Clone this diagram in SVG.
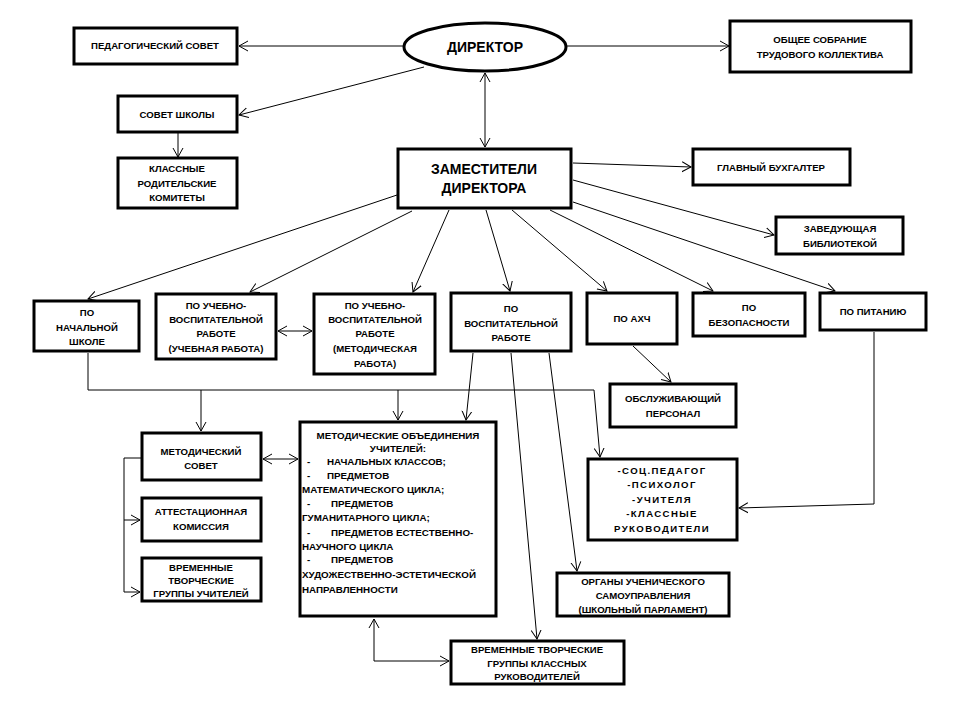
<svg xmlns="http://www.w3.org/2000/svg" width="960" height="720" viewBox="0 0 960 720">
<defs>
<marker id="arr" markerUnits="userSpaceOnUse" markerWidth="12" markerHeight="12" refX="9" refY="5" orient="auto-start-reverse" viewBox="0 0 12 10">
<path d="M0,0 L9,5 L0,10" fill="none" stroke="#000" stroke-width="1"/>
</marker>
</defs>
<style>
.box{fill:#fff;stroke:#000;stroke-width:3}
.t{font-family:"Liberation Sans",Arial,sans-serif;font-weight:bold;font-size:9.6px;fill:#000;text-anchor:middle}
.tl{font-family:"Liberation Sans",Arial,sans-serif;font-weight:bold;font-size:9.8px;fill:#000}
.big{font-size:14px}
.sp{letter-spacing:1.4px}
.c{fill:none;stroke:#000;stroke-width:1}
.a{marker-end:url(#arr)}
.ab{marker-start:url(#arr);marker-end:url(#arr)}
</style>
<rect width="960" height="720" fill="#fff"/>

<g id="connectors">
<line class="c a" x1="404" y1="46" x2="239" y2="46"/>
<line class="c a" x1="566" y1="46" x2="729" y2="46"/>
<line class="c a" x1="424" y1="67" x2="239" y2="115"/>
<line class="c a" x1="178" y1="133" x2="178" y2="157"/>
<line class="c ab" x1="485" y1="73" x2="485" y2="147"/>
<line class="c a" x1="573" y1="163" x2="691" y2="167"/>
<line class="c a" x1="573" y1="180" x2="774" y2="235"/>
<line class="c a" x1="573" y1="202" x2="835" y2="291"/>
<line class="c a" x1="550" y1="210" x2="713" y2="291"/>
<line class="c a" x1="512" y1="210" x2="607" y2="291"/>
<line class="c a" x1="486" y1="210" x2="510" y2="291"/>
<line class="c a" x1="449" y1="210" x2="413" y2="292"/>
<line class="c a" x1="412" y1="211" x2="250" y2="292"/>
<line class="c a" x1="397" y1="195" x2="88" y2="299"/>
<line class="c ab" x1="278" y1="331" x2="312" y2="331"/>
<polyline class="c a" points="88,353 88,390 594,390 600,457"/>
<line class="c a" x1="201" y1="390" x2="201" y2="431"/>
<line class="c a" x1="398" y1="390" x2="398" y2="420"/>
<line class="c a" x1="473" y1="353" x2="466" y2="420"/>
<line class="c a" x1="511" y1="353" x2="537" y2="639"/>
<line class="c a" x1="549" y1="353" x2="577" y2="571"/>
<line class="c a" x1="633" y1="346" x2="671" y2="382"/>
<polyline class="c a" points="874,332 874,504 739,508"/>
<line class="c ab" x1="263" y1="459" x2="298" y2="459"/>
<polyline class="c" points="141,458 124,458 124,592"/>
<line class="c a" x1="124" y1="520" x2="140" y2="520"/>
<line class="c a" x1="124" y1="592" x2="140" y2="592"/>
<polyline class="c ab" points="374,619 374,661 449,661"/>
</g>

<g id="director">
<ellipse class="box" cx="485" cy="47" rx="81" ry="24"/>
<text class="t big" x="485" y="52">ДИРЕКТОР</text>
</g>
<g id="pedsovet">
<rect class="box" x="74" y="28" width="163" height="36"/>
<text class="t" x="155" y="49">ПЕДАГОГИЧЕСКИЙ СОВЕТ</text>
</g>
<g id="obshchee">
<rect class="box" x="730" y="21" width="181" height="51"/>
<text class="t" x="820" y="43">ОБЩЕЕ СОБРАНИЕ</text>
<text class="t" x="820" y="58">ТРУДОВОГО КОЛЛЕКТИВА</text>
</g>
<g id="sovet-shkoly">
<rect class="box" x="118" y="96" width="119" height="36"/>
<text class="t" x="177" y="118">СОВЕТ ШКОЛЫ</text>
</g>
<g id="roditeli">
<rect class="box" x="118" y="158" width="119" height="50"/>
<text class="t" x="177" y="172">КЛАССНЫЕ</text>
<text class="t" x="177" y="187">РОДИТЕЛЬСКИЕ</text>
<text class="t" x="177" y="201">КОМИТЕТЫ</text>
</g>
<g id="zam">
<rect class="box" x="398" y="149" width="173" height="59"/>
<text class="t big" x="484" y="174">ЗАМЕСТИТЕЛИ</text>
<text class="t big" x="484" y="193">ДИРЕКТОРА</text>
</g>
<g id="buhgalter">
<rect class="box" x="693" y="149" width="157" height="36"/>
<text class="t" x="771" y="171">ГЛАВНЫЙ БУХГАЛТЕР</text>
</g>
<g id="biblioteka">
<rect class="box" x="776" y="217" width="127" height="37"/>
<text class="t" x="840" y="232">ЗАВЕДУЮЩАЯ</text>
<text class="t" x="840" y="247">БИБЛИОТЕКОЙ</text>
</g>
<g id="nach-shkola">
<rect class="box" x="34" y="301" width="105" height="50"/>
<text class="t" x="87" y="316">ПО</text>
<text class="t" x="87" y="331">НАЧАЛЬНОЙ</text>
<text class="t" x="87" y="345">ШКОЛЕ</text>
</g>
<g id="uvr-uch">
<rect class="box" x="156" y="294" width="120" height="65"/>
<text class="t" x="216" y="309">ПО УЧЕБНО-</text>
<text class="t" x="216" y="323">ВОСПИТАТЕЛЬНОЙ</text>
<text class="t" x="216" y="337">РАБОТЕ</text>
<text class="t" x="216" y="352">(УЧЕБНАЯ РАБОТА)</text>
</g>
<g id="uvr-met">
<rect class="box" x="314" y="294" width="121" height="80"/>
<text class="t" x="375" y="309">ПО УЧЕБНО-</text>
<text class="t" x="375" y="323">ВОСПИТАТЕЛЬНОЙ</text>
<text class="t" x="375" y="337">РАБОТЕ</text>
<text class="t" x="375" y="352">(МЕТОДИЧЕСКАЯ</text>
<text class="t" x="375" y="367">РАБОТА)</text>
</g>
<g id="vospit">
<rect class="box" x="451" y="293" width="120" height="58"/>
<text class="t" x="511" y="312">ПО</text>
<text class="t" x="511" y="327">ВОСПИТАТЕЛЬНОЙ</text>
<text class="t" x="511" y="341">РАБОТЕ</text>
</g>
<g id="ahch">
<rect class="box" x="587" y="293" width="90" height="51"/>
<text class="t" x="632" y="322">ПО АХЧ</text>
</g>
<g id="bezopasnost">
<rect class="box" x="693" y="293" width="112" height="43"/>
<text class="t" x="749" y="311">ПО</text>
<text class="t" x="749" y="326">БЕЗОПАСНОСТИ</text>
</g>
<g id="pitanie">
<rect class="box" x="820" y="293" width="106" height="37"/>
<text class="t" x="873" y="315">ПО ПИТАНИЮ</text>
</g>
<g id="personal">
<rect class="box" x="610" y="384" width="126" height="43"/>
<text class="t" x="673" y="402">ОБСЛУЖИВАЮЩИЙ</text>
<text class="t" x="673" y="417">ПЕРСОНАЛ</text>
</g>
<g id="met-sovet">
<rect class="box" x="142" y="433" width="119" height="47"/>
<text class="t" x="201" y="455">МЕТОДИЧЕСКИЙ</text>
<text class="t" x="201" y="469">СОВЕТ</text>
</g>
<g id="attest">
<rect class="box" x="142" y="498" width="119" height="43"/>
<text class="t" x="201" y="515">АТТЕСТАЦИОННАЯ</text>
<text class="t" x="201" y="530">КОМИССИЯ</text>
</g>
<g id="vtg-uchitelei">
<rect class="box" x="142" y="558" width="119" height="43"/>
<text class="t" x="201" y="571">ВРЕМЕННЫЕ</text>
<text class="t" x="201" y="584">ТВОРЧЕСКИЕ</text>
<text class="t" x="201" y="597">ГРУППЫ УЧИТЕЛЕЙ</text>
</g>
<g id="mo">
<rect class="box" x="300" y="422" width="196" height="194"/>
<text class="t" x="398" y="439" style="font-size:9.8px">МЕТОДИЧЕСКИЕ ОБЪЕДИНЕНИЯ</text>
<text class="t" x="398" y="452" style="font-size:9.8px">УЧИТЕЛЕЙ:</text>
<text class="tl" x="307" y="465">-</text><text class="tl" x="327" y="465">НАЧАЛЬНЫХ КЛАССОВ;</text>
<text class="tl" x="307" y="479">-</text><text class="tl" x="327" y="479">ПРЕДМЕТОВ</text>
<text class="tl" x="302" y="493">МАТЕМАТИЧЕСКОГО ЦИКЛА;</text>
<text class="tl" x="307" y="507">-</text><text class="tl" x="331" y="507">ПРЕДМЕТОВ</text>
<text class="tl" x="302" y="521">ГУМАНИТАРНОГО ЦИКЛА;</text>
<text class="tl" x="307" y="536">-</text><text class="tl" x="331" y="536">ПРЕДМЕТОВ ЕСТЕСТВЕННО-</text>
<text class="tl" x="302" y="550">НАУЧНОГО ЦИКЛА</text>
<text class="tl" x="307" y="563">-</text><text class="tl" x="331" y="563">ПРЕДМЕТОВ</text>
<text class="tl" x="302" y="578">ХУДОЖЕСТВЕННО-ЭСТЕТИЧЕСКОЙ</text>
<text class="tl" x="302" y="593">НАПРАВЛЕННОСТИ</text>
</g>
<g id="socped">
<rect class="box" x="588" y="459" width="149" height="81"/>
<text class="t sp" x="662" y="474">-СОЦ.ПЕДАГОГ</text>
<text class="t sp" x="662" y="488">-ПСИХОЛОГ</text>
<text class="t sp" x="662" y="503">-УЧИТЕЛЯ</text>
<text class="t sp" x="662" y="517">-КЛАССНЫЕ</text>
<text class="t sp" x="662" y="532">РУКОВОДИТЕЛИ</text>
</g>
<g id="organy">
<rect class="box" x="557" y="573" width="172" height="43"/>
<text class="t" x="643" y="585">ОРГАНЫ УЧЕНИЧЕСКОГО</text>
<text class="t" x="643" y="599">САМОУПРАВЛЕНИЯ</text>
<text class="t" x="643" y="613">(ШКОЛЬНЫЙ ПАРЛАМЕНТ)</text>
</g>
<g id="vtg-klassnyh">
<rect class="box" x="451" y="641" width="173" height="43"/>
<text class="t" x="537" y="653">ВРЕМЕННЫЕ ТВОРЧЕСКИЕ</text>
<text class="t" x="537" y="667">ГРУППЫ КЛАССНЫХ</text>
<text class="t" x="537" y="680">РУКОВОДИТЕЛЕЙ</text>
</g>
</svg>
